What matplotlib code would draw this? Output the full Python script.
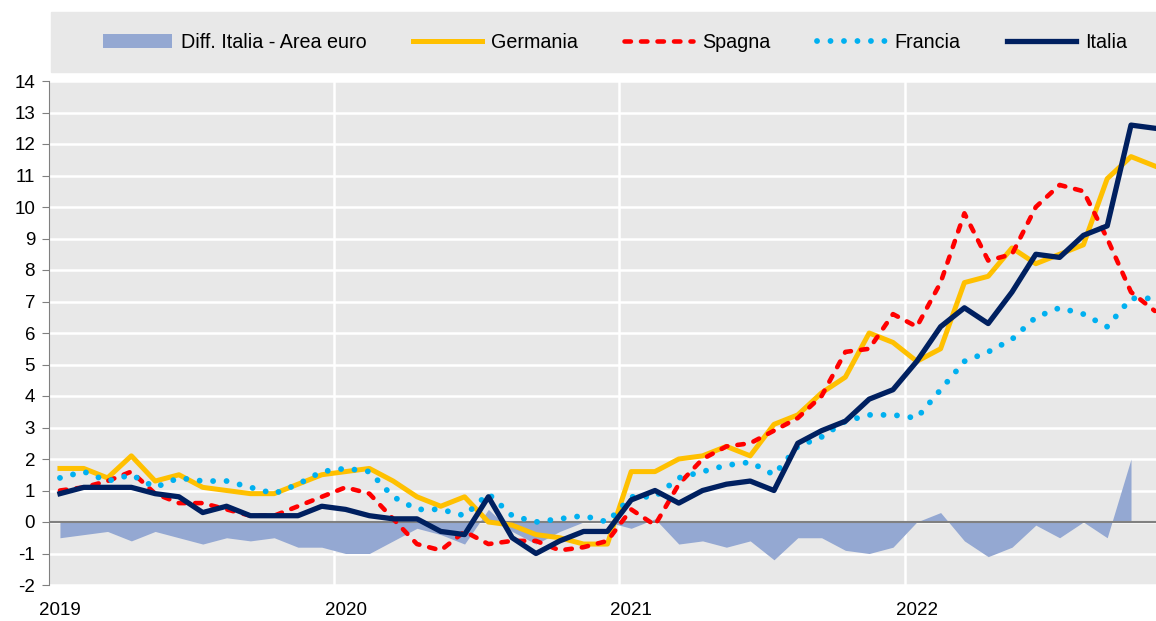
import numpy as np
import matplotlib.pyplot as plt
from matplotlib import font_manager
from matplotlib.patches import Rectangle

# inflazione armonizzata, var. % tendenziale, gen 2019 - nov 2022
anni = ['2019', '2020', '2021', '2022']

germania = [1.7, 1.7, 1.4, 2.1, 1.3, 1.5, 1.1, 1.0, 0.9, 0.9, 1.2, 1.5,
            1.6, 1.7, 1.3, 0.8, 0.5, 0.8, 0.0, -0.1, -0.4, -0.5, -0.7, -0.7,
            1.6, 1.6, 2.0, 2.1, 2.4, 2.1, 3.1, 3.4, 4.1, 4.6, 6.0, 5.7,
            5.1, 5.5, 7.6, 7.8, 8.7, 8.2, 8.5, 8.8, 10.9, 11.6, 11.3]
spagna = [1.0, 1.1, 1.3, 1.6, 0.9, 0.6, 0.6, 0.4, 0.2, 0.2, 0.5, 0.8,
          1.1, 0.9, 0.1, -0.7, -0.9, -0.3, -0.7, -0.6, -0.6, -0.9, -0.8, -0.6,
          0.4, -0.1, 1.2, 2.0, 2.4, 2.5, 2.9, 3.3, 4.0, 5.4, 5.5, 6.6,
          6.2, 7.6, 9.8, 8.3, 8.5, 10.0, 10.7, 10.5, 9.0, 7.3, 6.7]
francia = [1.4, 1.6, 1.3, 1.5, 1.1, 1.4, 1.3, 1.3, 1.1, 0.9, 1.2, 1.6,
           1.7, 1.6, 0.8, 0.4, 0.4, 0.2, 0.9, 0.2, 0.0, 0.1, 0.2, 0.0,
           0.8, 0.8, 1.4, 1.6, 1.8, 1.9, 1.5, 2.4, 2.7, 3.2, 3.4, 3.4,
           3.3, 4.2, 5.1, 5.4, 5.8, 6.5, 6.8, 6.6, 6.2, 7.1, 7.1]
italia = [0.9, 1.1, 1.1, 1.1, 0.9, 0.8, 0.3, 0.5, 0.2, 0.2, 0.2, 0.5,
          0.4, 0.2, 0.1, 0.1, -0.3, -0.4, 0.8, -0.5, -1.0, -0.6, -0.3, -0.3,
          0.7, 1.0, 0.6, 1.0, 1.2, 1.3, 1.0, 2.5, 2.9, 3.2, 3.9, 4.2,
          5.1, 6.2, 6.8, 6.3, 7.3, 8.5, 8.4, 9.1, 9.4, 12.6, 12.5]
diff_ita_ea = [-0.5, -0.4, -0.3, -0.6, -0.3, -0.5, -0.7, -0.5, -0.6, -0.5, -0.8, -0.8,
               -1.0, -1.0, -0.6, -0.2, -0.4, -0.7, 0.4, -0.3, -0.7, -0.3, 0.0, 0.0,
               -0.2, 0.1, -0.7, -0.6, -0.8, -0.6, -1.2, -0.5, -0.5, -0.9, -1.0, -0.8,
               0.0, 0.3, -0.6, -1.1, -0.8, -0.1, -0.5, 0.0, -0.5, 2.0]

names = {f.name for f in font_manager.fontManager.ttflist}
if 'Liberation Sans Narrow' in names:
    plt.rcParams['font.family'] = 'Liberation Sans Narrow'
    fs_tick, fs_leg, hl, cs, tp = 15, 16.5, 3.05, 2.1, 0.4
else:
    plt.rcParams['font.family'] = 'Liberation Sans'
    fs_tick, fs_leg, hl, cs, tp = 13.5, 14.2, 3.5, 2.35, 0.45
plt.rcParams['axes.unicode_minus'] = False

W, H = 1156, 621
x = np.arange(len(italia))
xd = np.arange(len(diff_ita_ea))

fig = plt.figure(figsize=(W/100, H/100), dpi=100)
ax = fig.add_axes([49/W, 36/H, 1 - 49/W, (585-81)/H])
ax.set_facecolor('#e8e8e8')

ax.fill_between(xd, 0, diff_ita_ea, color='#94a8d2', lw=0, zorder=2,
                label='Diff. Italia - Area euro')
ax.axhline(0, color='#808080', lw=1.5, zorder=3)
ax.plot(x, germania, color='#ffc000', lw=3.6, zorder=4, label='Germania')
ax.plot(x, spagna, color='#ff0000', lw=3.3, ls=(0, (1.4, 2.2)),
        dash_capstyle='round', zorder=5, label='Spagna')
ax.plot(x, francia, color='#00b0f0', lw=4.2, ls=(0, (0.01, 2.3)),
        dash_capstyle='round', zorder=6, label='Francia')
ax.plot(x, italia, color='#002060', lw=3.8, zorder=7, label='Italia')

# griglia
ax.set_yticks(range(-2, 15))
ax.grid(axis='y', color='white', lw=1.8, zorder=1)
for b in [11.5, 23.5, 35.5]:
    ax.axvline(b, color='white', lw=1.8, zorder=1)
ax.set_axisbelow(True)

ax.set_xlim(-0.46, 46.05)
ax.set_ylim(-2, 14)
ax.set_xticks([0, 12, 24, 36])
ax.set_xticklabels(anni)

for s in ['top', 'right', 'bottom']:
    ax.spines[s].set_visible(False)
ax.spines['left'].set_color('#808080')
ax.tick_params(axis='y', length=5, color='#808080', labelsize=fs_tick, pad=5)
ax.tick_params(axis='x', length=0, labelsize=fs_tick, pad=12)

# legenda su fondo grigio
fig.add_artist(Rectangle((51/W, 1 - 72/H), (W - 51)/W, 60/H,
                         transform=fig.transFigure, color='#e8e8e8', zorder=0))
fig.legend(loc='center', bbox_to_anchor=(615/W, 1 - 42/H), ncol=5, frameon=False,
           fontsize=fs_leg, handlelength=hl, handletextpad=tp, columnspacing=cs)

fig.savefig('out.png', dpi=100)
